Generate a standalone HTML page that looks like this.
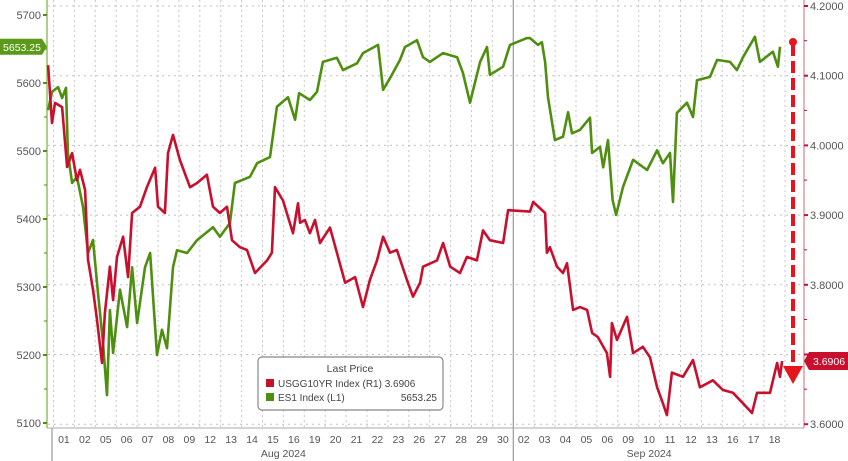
<!DOCTYPE html>
<html><head><meta charset="utf-8"><style>
body{margin:0;background:#fff;}
svg{display:block;font-family:"Liberation Sans",sans-serif;}
</style></head><body>
<svg id="chart" width="848" height="461" viewBox="0 0 848 461" xmlns="http://www.w3.org/2000/svg">
<g id="grid"></g>
<g id="axes"></g>
<g id="series"></g>
<g>
<line x1="793" y1="44" x2="793" y2="368" stroke="#e8141c" stroke-width="4" stroke-dasharray="12,5"/>
<circle cx="793" cy="42" r="4" fill="#e8141c"/>
<polygon points="783,366 803,366 793,384" fill="#e8141c"/>
</g>
<g>
<rect x="258" y="357" width="185" height="53" rx="4" fill="#fff" stroke="#888" stroke-width="1.2"/>
<text x="350" y="372" font-size="10.5" fill="#444" text-anchor="middle">Last Price</text>
<rect x="266" y="379" width="8" height="8" fill="#c8102e"/>
<text x="278" y="387" font-size="10" fill="#444">USGG10YR Index  (R1) 3.6906</text>
<rect x="266" y="393" width="8" height="8" fill="#4f8f10"/>
<text x="278" y="401" font-size="10" fill="#444">ES1 Index  (L1)</text>
<text x="437" y="401" font-size="10" fill="#444" text-anchor="end">5653.25</text>
</g>
</svg>
<script>
const esT=[-0.26,-0.07,0.22,0.41,0.60,0.69,0.89,1.12,1.41,1.65,1.89,2.13,2.37,2.56,2.70,2.85,3.18,3.52,3.76,4.00,4.38,4.62,4.95,5.19,5.43,5.72,5.91,6.39,6.87,7.63,7.96,8.44,8.68,9.40,9.74,10.36,10.69,11.22,11.56,11.75,12.27,12.61,12.89,13.56,13.85,14.52,14.81,15.53,15.77,16.10,16.58,16.82,17.39,17.68,18.01,18.64,19.31,19.59,19.93,20.41,20.74,20.88,21.51,21.84,22.65,22.80,23.18,23.37,23.52,23.66,23.99,24.38,24.62,24.81,25.19,25.67,25.77,26.15,26.30,26.53,26.75,26.92,27.25,27.73,28.40,28.88,29.16,29.50,29.64,29.83,30.31,30.60,30.79,31.41,31.75,32.37,32.70,32.99,33.56,33.80,34.42,34.66,34.76];
const esV=[5560,5587,5594,5578,5593,5497,5453,5462,5418,5350,5369,5291,5218,5141,5266,5203,5296,5241,5329,5247,5329,5350,5200,5237,5210,5329,5354,5350,5369,5388,5374,5394,5453,5462,5482,5491,5565,5579,5546,5585,5575,5587,5631,5637,5619,5629,5644,5656,5590,5607,5634,5653,5663,5638,5631,5644,5638,5615,5571,5631,5653,5612,5624,5656,5666,5666,5656,5660,5631,5579,5516,5521,5557,5526,5531,5549,5497,5506,5476,5516,5428,5406,5447,5487,5472,5501,5482,5497,5425,5556,5571,5550,5604,5609,5634,5631,5619,5638,5668,5631,5646,5624,5653.25];
const ylT=[-0.26,-0.07,0.07,0.41,0.65,0.89,1.12,1.27,1.51,1.65,1.89,2.08,2.32,2.46,2.70,2.85,3.04,3.33,3.57,3.76,4.14,4.47,4.86,5.00,5.33,5.48,5.72,6.05,6.53,6.87,7.34,7.63,7.96,8.30,8.54,8.92,9.26,9.64,10.22,10.45,10.60,10.98,11.46,11.70,11.80,12.03,12.27,12.51,12.75,13.23,13.56,13.95,14.43,14.81,15.14,15.48,15.77,16.10,16.43,16.91,17.20,17.54,17.68,18.35,18.64,18.98,19.45,19.78,20.26,20.55,20.88,21.51,21.75,22.80,22.95,23.52,23.61,23.75,24.09,24.38,24.57,24.86,25.19,25.53,25.77,26.05,26.48,26.63,26.72,26.96,27.44,27.73,28.20,28.54,28.88,29.16,29.35,29.59,30.12,30.60,30.93,31.55,32.03,32.51,32.99,33.42,33.66,34.28,34.62,34.76,34.86];
const ylV=[4.115,4.032,4.061,4.055,3.969,3.989,3.950,3.965,3.936,3.836,3.793,3.750,3.688,3.760,3.826,3.778,3.840,3.869,3.811,3.903,3.912,3.940,3.968,3.912,3.903,3.989,4.015,3.979,3.940,3.946,3.958,3.912,3.903,3.912,3.864,3.854,3.850,3.817,3.835,3.846,3.940,3.921,3.874,3.917,3.889,3.893,3.874,3.893,3.860,3.882,3.846,3.803,3.811,3.768,3.807,3.835,3.869,3.846,3.850,3.807,3.783,3.803,3.826,3.835,3.860,3.826,3.817,3.840,3.835,3.878,3.864,3.860,3.907,3.905,3.919,3.903,3.846,3.854,3.826,3.817,3.831,3.764,3.768,3.764,3.731,3.725,3.702,3.668,3.745,3.721,3.754,3.702,3.711,3.696,3.653,3.630,3.613,3.674,3.668,3.692,3.653,3.663,3.649,3.645,3.630,3.616,3.645,3.645,3.688,3.668,3.6906];
const dayLabels=["01","02","05","06","07","08","09","12","13","14","15","16","19","20","21","22","23","26","27","28","29","30","02","03","04","05","06","09","10","11","12","13","16","17","18"];
const leftTicks=[5100,5200,5300,5400,5500,5600,5700];
const rightTicks=[3.6,3.7,3.8,3.9,4.0,4.1,4.2];
const months=[{label:"Aug 2024",start:0,end:22},{label:"Sep 2024",start:22,end:35}];

const NS="http://www.w3.org/2000/svg";
const X0=53.5,DX=20.9;
const xS=t=>X0+t*DX;
const yL=v=>15+(5700-v)*0.68;
const yR=v=>6+(4.2-v)*697;
function mk(tag,attrs,parent,txt){const e=document.createElementNS(NS,tag);for(const k in attrs)e.setAttribute(k,attrs[k]);if(txt!==undefined)e.textContent=txt;parent.appendChild(e);return e;}
const grid=document.getElementById('grid'),axes=document.getElementById('axes'),series=document.getElementById('series');
const lastY=yR(ylV[ylV.length-1]);

for(let k=0;k<=35;k++){
  const x=xS(k);
  if(k===22) continue;
  const l=mk('line',{x1:x,y1:0,x2:x,y2:428,stroke:'#c8c8c8','stroke-width':1,'stroke-dasharray':'2,3'},grid);
  
  
}
rightTicks.forEach(v=>{
  const y=yR(v);
  const l=mk('line',{x1:48,y1:y,x2:803,y2:y,stroke:'#c0c0c0','stroke-width':1,'stroke-dasharray':'2,4'},grid);
  
  
});
const sep=mk('line',{x1:xS(22),y1:0,x2:xS(22),y2:461,stroke:'#999','stroke-width':1.2},grid);


const sep0=mk('line',{x1:52,y1:428,x2:52,y2:461,stroke:'#999','stroke-width':1.2},grid);



const la=mk('line',{x1:47,y1:0,x2:47,y2:428,stroke:'#8fc060','stroke-width':1.5},axes);


const ra=mk('line',{x1:804,y1:0,x2:804,y2:428,stroke:'#e09aa4','stroke-width':1.5},axes);


const ba=mk('line',{x1:47,y1:428,x2:804,y2:428,stroke:'#aaa','stroke-width':1},axes);



leftTicks.forEach(v=>{
  const y=yL(v);
  const t=mk('line',{x1:43,y1:y,x2:47,y2:y,stroke:'#4f8f10','stroke-width':2},axes);
  
  
  if(v<5700){const m=mk('line',{x1:44,y1:y-34,x2:47,y2:y-34,stroke:'#4f8f10','stroke-width':1},axes);
  
  }
  const tx=mk('text',{x:41,y:y+4,'font-size':11,fill:'#555','text-anchor':'end'},axes,String(v));
  
  
});
rightTicks.forEach(v=>{
  const y=yR(v);
  const t=mk('line',{x1:804,y1:y,x2:808,y2:y,stroke:'#c8102e','stroke-width':2},axes);
  
  
  if(v<4.2){const m=mk('line',{x1:804,y1:y-35,x2:807,y2:y-35,stroke:'#c8102e','stroke-width':1},axes);
  
  }
  if(Math.abs(y-lastY)>12){
  const tx=mk('text',{x:810,y:y+4,'font-size':11,fill:'#555'},axes,v.toFixed(4));
  
  
  }
});
dayLabels.forEach((d,k)=>{
  const tx=mk('text',{x:xS(k+0.5),y:443,'font-size':10.5,fill:'#555','text-anchor':'middle'},axes,d);
  
  
});
months.forEach(m=>{
  const tx=mk('text',{x:xS((m.start+m.end)/2),y:457,'font-size':10.5,fill:'#555','text-anchor':'middle'},axes,m.label);
  
  
});

function path(ts,vs,ys){return ts.map((t,i)=>(i?'L':'M')+xS(t).toFixed(1)+','+ys(vs[i]).toFixed(1)).join('');}
const pe=mk('path',{d:path(esT,esV,yL),fill:'none',stroke:'#4f8f10','stroke-width':2.6,'stroke-linejoin':'round'},series);


const py=mk('path',{d:path(ylT,ylV,yR),fill:'none',stroke:'#c8102e','stroke-width':2.6,'stroke-linejoin':'round'},series);



const ey=yL(esV[esV.length-1]);
const tg=mk('polygon',{points:`0,${ey-8} 42,${ey-8} 47,${ey} 42,${ey+8} 0,${ey+8}`,fill:'#5a9a18'},axes);


const tgt=mk('text',{x:22,y:ey+4,'font-size':10.5,fill:'#fff','text-anchor':'middle'},axes,'5653.25');


const rt=mk('polygon',{points:`804,${lastY} 809,${lastY-9} 848,${lastY-9} 848,${lastY+9} 809,${lastY+9}`,fill:'#c8102e'},axes);


const rtt=mk('text',{x:829,y:lastY+4,'font-size':10.5,fill:'#fff','text-anchor':'middle'},axes,'3.6906');


</script>
</body></html>
